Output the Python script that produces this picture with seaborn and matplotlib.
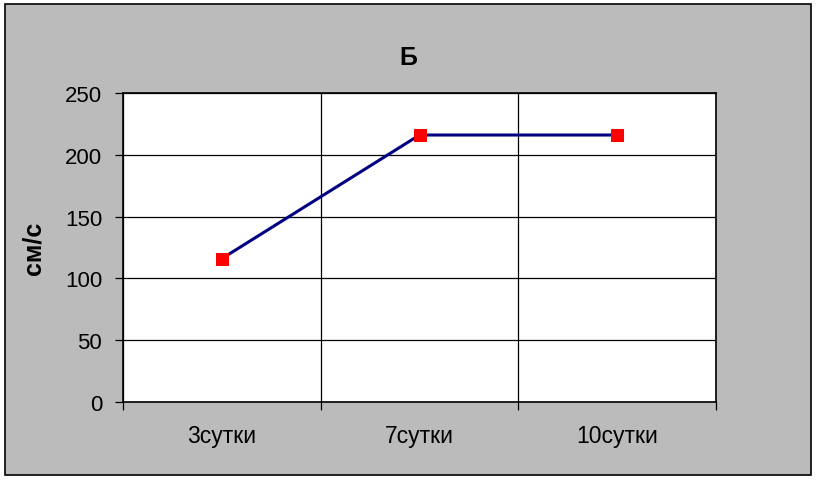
import matplotlib
matplotlib.use('Agg')
import matplotlib.pyplot as plt
import seaborn as sns
import pandas as pd
from matplotlib.patches import Rectangle

days = ['3сутки', '7сутки', '10сутки']
speed = [116, 216, 216]

df = pd.DataFrame({'day': days, 'speed': speed})

sns.set_style('white')
plt.rcParams['font.family'] = ['Liberation Sans', 'DejaVu Sans']
plt.rcParams['text.color'] = 'black'
plt.rcParams['xtick.color'] = 'black'
plt.rcParams['ytick.color'] = 'black'
plt.rcParams['axes.labelcolor'] = 'black'

fig = plt.figure(figsize=(8.17, 4.81), dpi=100)
fig.patch.set_facecolor('white')
bg = Rectangle((5/817, 5/481), 806/817, 471/481, transform=fig.transFigure,
               facecolor='#bbbbbb', edgecolor='black', linewidth=1.2, zorder=-5)
fig.patches.append(bg)

ax = fig.add_axes([123/817, 78/481, 593/817, 309/481])
ax.set_facecolor('white')

sns.lineplot(data=df, x='day', y='speed', ax=ax, color='#000080', linewidth=2.2,
             marker='s', markersize=8, markerfacecolor='red', markeredgecolor='red', zorder=3)

ax.set_xlim(-0.5, 2.5)
ax.set_ylim(0, 250)
ax.set_yticks(range(0, 251, 50))
ax.set_xticks([-0.5, 0.5, 1.5, 2.5], minor=True)
ax.grid(axis='y', color='black', linewidth=0.9)
ax.grid(axis='x', which='minor', color='black', linewidth=0.9)

ax.tick_params(axis='x', which='major', length=0, pad=16, labelsize=16.5)
ax.tick_params(axis='x', which='minor', length=6, width=0.9, color='black', direction='out')
ax.tick_params(axis='y', length=6, width=0.9, color='black', direction='out', pad=9, labelsize=16)
ax.xaxis.set_ticks_position('bottom')
ax.yaxis.set_ticks_position('left')

for s in ax.spines.values():
    s.set_visible(True)
    s.set_color('black')
    s.set_linewidth(1.2)

ax.set_xlabel('')
ax.set_ylabel('см/с', fontsize=18, fontweight='bold')
ax.yaxis.set_label_coords(-77/593, 0.5)

fig.text(408/817, 1 - 58/481, 'Б', ha='center', va='center', fontsize=18, fontweight='bold')

fig.savefig('out.png', dpi=100, facecolor=fig.get_facecolor())
